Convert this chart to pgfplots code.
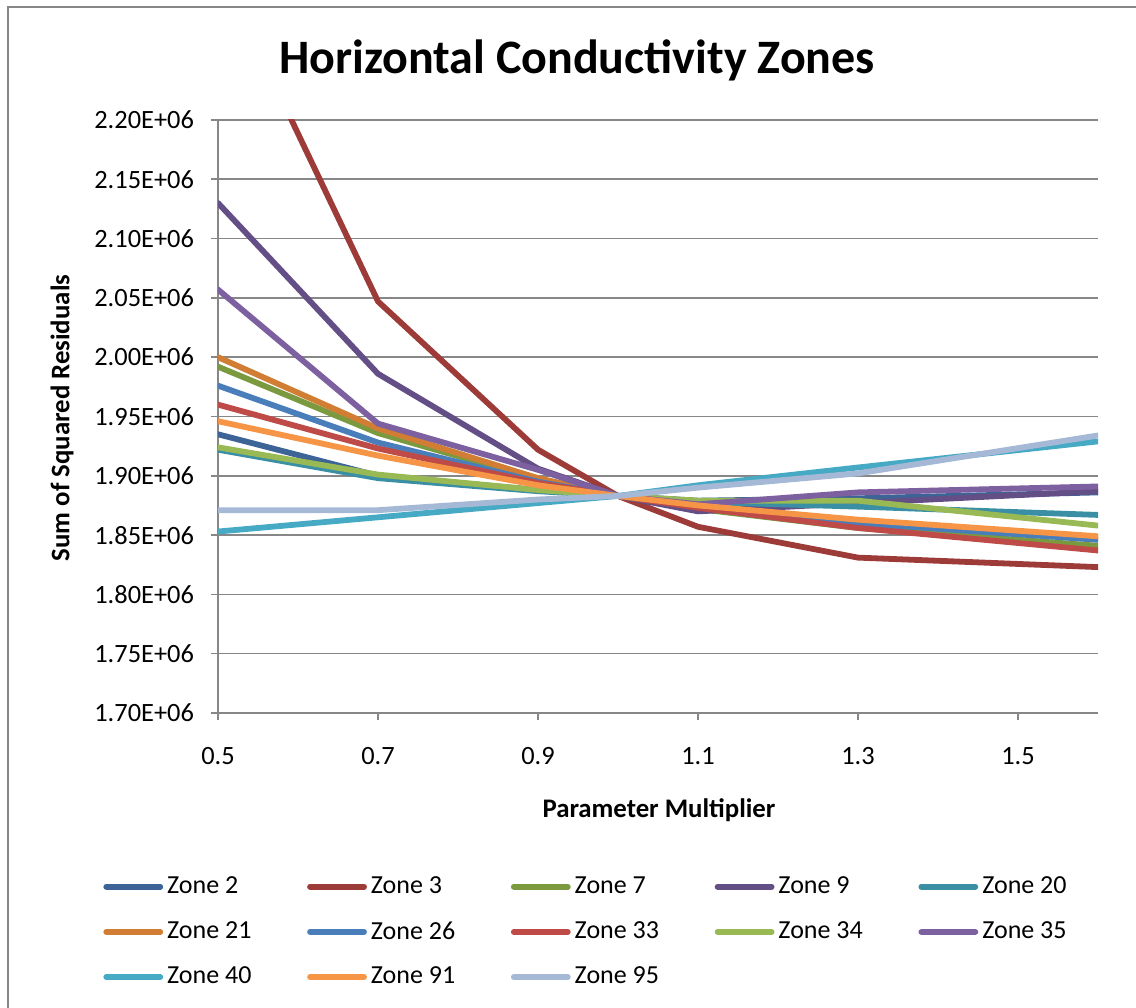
\documentclass[border=0pt]{standalone}
\usepackage{fontspec}
\setmainfont{Carlito}
\usepackage{pgfplots}
\pgfplotsset{compat=1.18}

\definecolor{z2}{HTML}{3C6497}
\definecolor{z3}{HTML}{9C3B38}
\definecolor{z7}{HTML}{7B9A3F}
\definecolor{z9}{HTML}{644E86}
\definecolor{z20}{HTML}{3A8FA5}
\definecolor{z21}{HTML}{D17D34}
\definecolor{z26}{HTML}{4A7EBB}
\definecolor{z33}{HTML}{BE4B48}
\definecolor{z34}{HTML}{98B954}
\definecolor{z35}{HTML}{7D60A0}
\definecolor{z40}{HTML}{46AAC5}
\definecolor{z91}{HTML}{F69545}
\definecolor{z95}{HTML}{A5B8D5}
\definecolor{gridgray}{HTML}{878787}

\newcommand{\lbl}[1]{\makebox[68bp][l]{#1}}

\begin{document}
\begin{tikzpicture}[x=1bp,y=1bp]
  \useasboundingbox (0,0) rectangle (568,504);
  \draw[gridgray, line width=0.8bp] (4,0) -- (4,500.5) -- (568,500.5);

  \node[font=\fontsize{24bp}{28bp}\selectfont\bfseries] at (288.5,474) {Horizontal Conductivity Zones};
  \node[font=\fontsize{13.4bp}{15bp}\selectfont\bfseries, rotate=90] at (31,295) {Sum of Squared Residuals};
  \node[font=\fontsize{13.4bp}{15bp}\selectfont\bfseries] at (329.5,99) {Parameter Multiplier};

  \begin{axis}[
      at={(109bp,147.5bp)}, anchor=south west,
      scale only axis, width=440bp, height=296.5bp,
      xmin=0.5, xmax=1.6, ymin=1.7e6, ymax=2.2e6,
      axis x line*=bottom, axis y line*=left,
      axis line style={gridgray, line width=0.8bp},
      xtick={0.5,0.7,0.9,1.1,1.3,1.5},
      xticklabels={0.5,0.7,0.9,1.1,1.3,1.5},
      ytick={1.70e6,1.75e6,1.80e6,1.85e6,1.90e6,1.95e6,2.00e6,2.05e6,2.10e6,2.15e6,2.20e6},
      yticklabels={1.70E+06,1.75E+06,1.80E+06,1.85E+06,1.90E+06,1.95E+06,2.00E+06,2.05E+06,2.10E+06,2.15E+06,2.20E+06},
      scaled y ticks=false,
      tick align=outside, major tick length=3.5bp,
      tick style={gridgray, line width=0.8bp},
      ticklabel style={font=\fontsize{13.2bp}{15bp}\selectfont},
      yticklabel style={xshift=-5bp},
      xticklabel style={yshift=-10bp},
      ymajorgrids, grid style={gridgray, line width=0.8bp},
      every axis plot/.append style={line width=2.9bp, line join=round, line cap=round},
      legend columns=5,
      legend cell align=left,
      legend style={draw=none, fill=none, at={(-0.1375,-0.262)}, anchor=north west,
        font=\fontsize{13bp}{15bp}\selectfont, row sep=8.5bp},
      legend image code/.code={\draw[#1, line cap=round] (0bp,0bp) -- (27bp,0bp);},
    ]
    \addplot[z2] coordinates {(0.5,1.935e6) (0.7,1.900e6) (0.9,1.888e6) (1.0,1.883e6) (1.1,1.879e6) (1.3,1.881e6) (1.6,1.886e6)};
    \addlegendentry{\lbl{Zone 2}}
    \addplot[z3] coordinates {(0.5,2.330e6) (0.7,2.047e6) (0.9,1.922e6) (1.0,1.883e6) (1.1,1.857e6) (1.3,1.831e6) (1.6,1.823e6)};
    \addlegendentry{\lbl{Zone 3}}
    \addplot[z7] coordinates {(0.5,1.992e6) (0.7,1.936e6) (0.9,1.897e6) (1.0,1.883e6) (1.1,1.872e6) (1.3,1.856e6) (1.6,1.841e6)};
    \addlegendentry{\lbl{Zone 7}}
    \addplot[z9] coordinates {(0.5,2.130e6) (0.7,1.986e6) (0.9,1.906e6) (1.0,1.883e6) (1.1,1.870e6) (1.3,1.877e6) (1.6,1.887e6)};
    \addlegendentry{\lbl{Zone 9}}
    \addplot[z20] coordinates {(0.5,1.922e6) (0.7,1.898e6) (0.9,1.887e6) (1.0,1.883e6) (1.1,1.878e6) (1.3,1.874e6) (1.6,1.867e6)};
    \addlegendentry{\lbl{Zone 20}}
    \addplot[z21] coordinates {(0.5,2.000e6) (0.7,1.940e6) (0.9,1.898e6) (1.0,1.883e6) (1.1,1.874e6) (1.3,1.862e6) (1.6,1.848e6)};
    \addlegendentry{\lbl{Zone 21}}
    \addplot[z26] coordinates {(0.5,1.976e6) (0.7,1.928e6) (0.9,1.895e6) (1.0,1.883e6) (1.1,1.874e6) (1.3,1.860e6) (1.6,1.846e6)};
    \addlegendentry{\lbl{Zone 26}}
    \addplot[z33] coordinates {(0.5,1.960e6) (0.7,1.923e6) (0.9,1.894e6) (1.0,1.883e6) (1.1,1.873e6) (1.3,1.856e6) (1.6,1.837e6)};
    \addlegendentry{\lbl{Zone 33}}
    \addplot[z34] coordinates {(0.5,1.924e6) (0.7,1.901e6) (0.9,1.888e6) (1.0,1.883e6) (1.1,1.879e6) (1.3,1.879e6) (1.6,1.858e6)};
    \addlegendentry{\lbl{Zone 34}}
    \addplot[z35] coordinates {(0.5,2.057e6) (0.7,1.944e6) (0.9,1.905e6) (1.0,1.883e6) (1.1,1.876e6) (1.3,1.886e6) (1.6,1.891e6)};
    \addlegendentry{\lbl{Zone 35}}
    \addplot[z40] coordinates {(0.5,1.853e6) (0.7,1.865e6) (0.9,1.877e6) (1.0,1.883e6) (1.1,1.892e6) (1.3,1.907e6) (1.6,1.929e6)};
    \addlegendentry{\lbl{Zone 40}}
    \addplot[z91] coordinates {(0.5,1.946e6) (0.7,1.917e6) (0.9,1.892e6) (1.0,1.883e6) (1.1,1.875e6) (1.3,1.863e6) (1.6,1.849e6)};
    \addlegendentry{\lbl{Zone 91}}
    \addplot[z95] coordinates {(0.5,1.871e6) (0.7,1.871e6) (0.9,1.880e6) (1.0,1.883e6) (1.1,1.890e6) (1.3,1.902e6) (1.6,1.934e6)};
    \addlegendentry{\lbl{Zone 95}}
  \end{axis}
\end{tikzpicture}
\end{document}
